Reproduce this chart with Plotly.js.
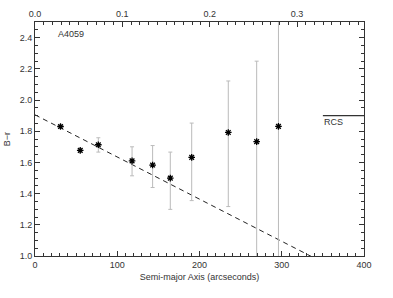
<!DOCTYPE html>
<html><head><meta charset="utf-8">
<script src="https://cdn.plot.ly/plotly-3.0.1.min.js"></script>
<style>html,body{margin:0;padding:0;background:#fff}#chart{width:393px;height:298px}</style>
</head><body><div id="chart"></div>
<script>
const radius = [31, 55, 77, 118, 143, 164.5, 190.5, 235, 269.5, 296];
const color  = [1.83, 1.677, 1.713, 1.61, 1.583, 1.499, 1.632, 1.792, 1.733, 1.831];
const errPlus  = [0.01, 0.01, 0.045, 0.09, 0.125, 0.167, 0.22, 0.33, 0.516, 0.9];
const errMinus = [0.01, 0.01, 0.047, 0.096, 0.144, 0.2, 0.277, 0.475, 0.9, 0.9];
const fitX = [0, 400];
const fitY = [1.905, 0.824];
const rcsX = [350, 400];
const rcsY = [1.9, 1.9];
const topTicks = [0.0, 0.1, 0.2, 0.3];
const arcsecPerUnit = 1062;

const font = {family: 'Liberation Sans, Arial, sans-serif', size: 9, color: '#333'};

const traces = [
  {x: fitX, y: fitY, mode: 'lines', line: {color: '#222', width: 1, dash: '5px,4px'}, hoverinfo: 'skip'},
  {x: rcsX, y: rcsY, mode: 'lines', line: {color: '#333', width: 1.2}, hoverinfo: 'skip'},
  {x: radius, y: color, mode: 'markers',
   marker: {symbol: 'asterisk-open', size: 5.5, color: '#000', line: {color: '#000', width: 1.3}},
   error_y: {type: 'data', symmetric: false, array: errPlus, arrayminus: errMinus, color: '#bbb', thickness: 1, width: 2}},
  {x: [0, 400 / arcsecPerUnit], y: [1, 1], xaxis: 'x2', mode: 'markers', marker: {opacity: 0}, hoverinfo: 'skip'}
];

const layout = {
  width: 393, height: 298,
  margin: {l: 35, r: 29, t: 22, b: 42},
  paper_bgcolor: '#fff', plot_bgcolor: '#fff',
  showlegend: false,
  font: font,
  xaxis: {
    range: [0, 400], tickvals: [0, 100, 200, 300, 400], ticks: 'inside', ticklen: 5, tickcolor: '#333',
    showline: true, linecolor: '#333', linewidth: 1, mirror: false, showgrid: false, zeroline: false,
    minor: {dtick: 10, tick0: 0, ticks: 'inside', ticklen: 3, tickcolor: '#333', showgrid: false},
    tickfont: font,
    title: {text: 'Semi-major Axis (arcseconds)', font: font, standoff: 4}
  },
  xaxis2: {
    overlaying: 'x', side: 'top', anchor: 'y',
    range: [0, 400 / arcsecPerUnit], tickvals: topTicks, ticktext: topTicks.map(v => v.toFixed(1)),
    ticks: 'inside', ticklen: 5, tickcolor: '#333',
    showline: true, linecolor: '#333', linewidth: 1, showgrid: false, zeroline: false,
    minor: {dtick: 0.01, tick0: 0, ticks: 'inside', ticklen: 3, tickcolor: '#333', showgrid: false},
    tickfont: font
  },
  yaxis: {
    range: [1.0, 2.5], tickvals: [1.0, 1.2, 1.4, 1.6, 1.8, 2.0, 2.2, 2.4], tickformat: '.1f',
    ticks: 'inside', ticklen: 5, tickcolor: '#333',
    showline: true, linecolor: '#333', linewidth: 1, mirror: 'ticks', showgrid: false, zeroline: false,
    minor: {dtick: 0.05, tick0: 1.0, ticks: 'inside', ticklen: 3, tickcolor: '#333', showgrid: false},
    tickfont: font,
    title: {text: 'B\u2212r', font: font, standoff: 7}
  },
  annotations: [
    {x: 25, y: 2.42, xref: 'x', yref: 'y', text: 'A4059', showarrow: false, xanchor: 'left', yanchor: 'middle', font: font},
    {x: 349, y: 1.858, xref: 'x', yref: 'y', text: 'RCS', showarrow: false, xanchor: 'left', yanchor: 'middle', font: font}
  ]
};

Plotly.newPlot('chart', traces, layout, {staticPlot: true, displayModeBar: false});
</script></body></html>
